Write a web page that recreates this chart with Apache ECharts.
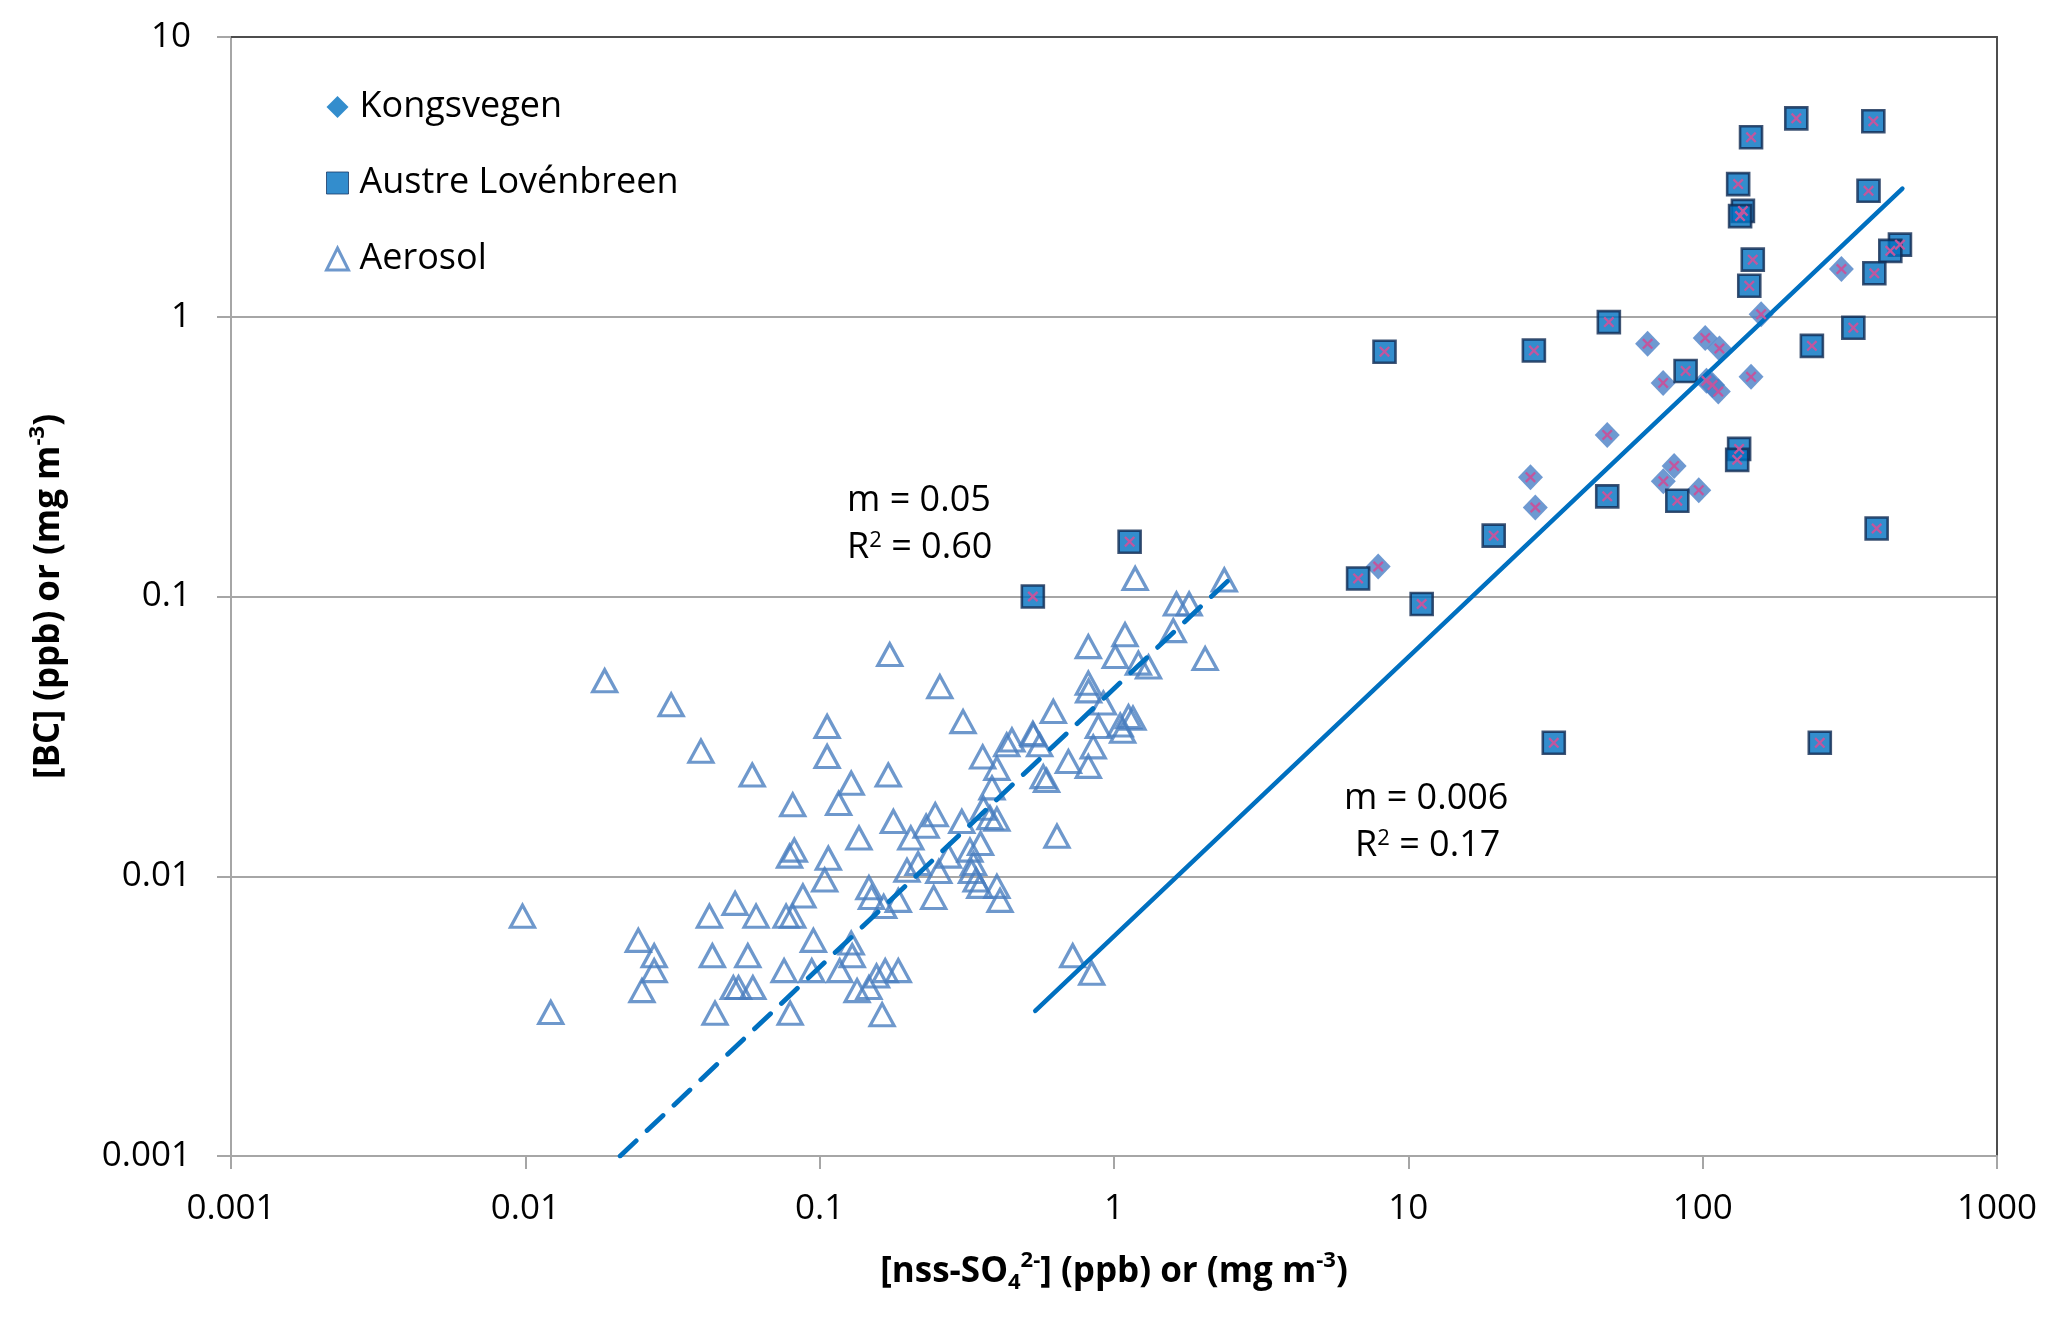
<!DOCTYPE html>
<html>
<head>
<meta charset="utf-8">
<script src="https://cdn.jsdelivr.net/npm/echarts@6/dist/echarts.min.js"></script>
<style>
html,body{margin:0;padding:0;background:#fff;}
#chart{width:2067px;height:1318px;}
</style>
</head>
<body>
<div id="chart"></div>
<script>
// ---- data ----
const xTickLabels = ['0.001','0.01','0.1','1','10','100','1000'];
const yTickLabels = ['0.001','0.01','0.1','1','10'];

const kongsvegen = [
  [7.9,0.128],[26,0.267],[27,0.208],[47.4,0.378],[65,0.80],[73.5,0.258],
  [73.4,0.58],[80,0.293],[97,0.24],[102,0.84],[103,0.59],[108,0.57],
  [113,0.54],[114,0.77],[146,0.61],[158,1.02],[296,1.48]
];

const austreLovenbreen = [
  [0.53,0.100],[1.13,0.157],[6.75,0.116],[8.3,0.75],[11.1,0.094],[19.5,0.165],
  [26.7,0.757],[31.2,0.030],[48,0.957],[47.4,0.228],[82,0.22],[87.5,0.64],
  [132,2.98],[137,2.39],[134,2.29],[146,4.38],[208,5.12],[380,5.0],
  [366,2.82],[148,1.6],[144,1.29],[468,1.81],[434,1.72],[383,1.43],
  [325,0.914],[235,0.787],[133,0.337],[131,0.308],[250,0.030],[390,0.175]
];

const aerosol = [
  [0.0186,0.050],[0.0313,0.041],[0.0395,0.028],[0.059,0.023],[0.106,0.0343],
  [0.106,0.0268],[0.128,0.0215],[0.173,0.062],[0.171,0.023],[0.256,0.0476],
  [0.307,0.0357],[0.358,0.0267],[0.432,0.0295],[0.45,0.0307],[0.40,0.0243],
  [0.532,0.032],[0.559,0.0295],[0.622,0.0388],[0.818,0.0662],[1.09,0.073],
  [1.01,0.061],[1.18,0.116],[2.37,0.1145],[1.63,0.094],[1.80,0.094],
  [1.59,0.0755],[2.04,0.060],[1.21,0.0578],[1.31,0.056],[0.818,0.049],
  [0.82,0.046],[0.92,0.0416],[1.12,0.0372],[1.05,0.0347],[1.07,0.033],
  [0.885,0.0343],[0.85,0.029],[0.818,0.0247],[0.70,0.0257],[0.575,0.0227],
  [0.59,0.022],[0.385,0.0207],[0.081,0.018],[0.116,0.0182],[0.136,0.0137],
  [0.082,0.0124],[0.079,0.0118],[0.107,0.0116],[0.104,0.0097],[0.147,0.0091],
  [0.15,0.0084],[0.00978,0.0072],[0.0242,0.0059],[0.0274,0.0052],[0.0274,0.0046],
  [0.0249,0.0039],[0.0122,0.00326],[0.0422,0.0072],[0.0516,0.0080],[0.0608,0.0072],
  [0.0769,0.0072],[0.081,0.0072],[0.0877,0.0085],[0.0432,0.0052],[0.057,0.0052],
  [0.0952,0.0059],[0.0757,0.0046],[0.094,0.0046],[0.117,0.0046],[0.128,0.00577],
  [0.129,0.0052],[0.147,0.0040],[0.134,0.0039],[0.0509,0.0040],[0.053,0.0040],
  [0.0593,0.0040],[0.0441,0.00324],[0.0794,0.00324],[0.156,0.0044],[0.178,0.0157],
  [0.247,0.0166],[0.230,0.0151],[0.204,0.0137],[0.304,0.0157],[0.379,0.0162],
  [0.36,0.0175],[0.40,0.016],[0.64,0.0139],[0.274,0.0118],[0.216,0.0111],
  [0.198,0.0105],[0.254,0.0104],[0.324,0.0124],[0.333,0.0111],[0.328,0.0104],
  [0.34,0.0097],[0.35,0.0092],[0.40,0.0092],[0.41,0.0082],[0.352,0.0131],
  [0.185,0.0082],[0.244,0.0084],[0.165,0.0078],[0.167,0.0046],[0.185,0.0046],
  [0.163,0.0032],[0.724,0.0052],[0.84,0.0045],[1.16,0.0367],[0.53,0.0324]
];

// trend line end points
const glacierFit = [[0.54,0.0033],[477,2.87]];
const aerosolFit = [[0.021,0.001],[2.53,0.118]];

const fitLabels = {
  aerosol: ['m = 0.05', 'R{sup|2} = 0.60'],
  glacier: ['m = 0.006', 'R{sup|2} = 0.17']
};

// ---- chart ----
const FONT = 'Open Sans';
const crossPath = 'path://M1.5,0 L5,3.5 L8.5,0 L10,1.5 L6.5,5 L10,8.5 L8.5,10 L5,6.5 L1.5,10 L0,8.5 L3.5,5 L0,1.5 Z';

function logLabel(labels, base) {
  return function (v) {
    const i = Math.round(Math.log10(v)) - base;
    return labels[i] !== undefined ? labels[i] : '';
  };
}

const chart = echarts.init(document.getElementById('chart'), null, {renderer: 'canvas'});

const gridColor = '#a6a6a6';
const supStyle = {fontSize: 22, fontFamily: FONT, fontWeight: 'bold', color: '#000', verticalAlign: 'top', lineHeight: 20};
const subStyle = {fontSize: 22, fontFamily: FONT, fontWeight: 'bold', color: '#000', verticalAlign: 'bottom', lineHeight: 20};
const annSup = {fontSize: 22, fontFamily: FONT, verticalAlign: 'top', lineHeight: 22, fill: '#000'};

const option = {
  backgroundColor: '#fff',
  animation: false,
  grid: {left: 231, right: 70, top: 37, bottom: 162, containLabel: false},
  legend: {
    orient: 'vertical', left: 320, top: 82,
    itemWidth: 22, itemHeight: 22, itemGap: 36,
    selectedMode: false,
    textStyle: {fontSize: 36, fontFamily: FONT, color: '#000', lineHeight: 40, padding: [0,0,0,6]},
    data: [
      {name: 'Kongsvegen', icon: 'diamond', itemStyle: {color: '#0070c0', borderWidth: 0}},
      {name: 'Austre Lovénbreen', icon: 'rect', itemStyle: {color: '#0070c0', borderColor: '#1a3a66', borderWidth: 1}},
      {name: 'Aerosol', icon: 'triangle', itemStyle: {color: 'rgba(0,0,0,0)', borderColor: '#4a7ebf', borderWidth: 3}}
    ]
  },
  xAxis: [{
    type: 'log', logBase: 10, min: 0.001, max: 1000, splitNumber: 6,
    axisLine: {show: true, lineStyle: {color: gridColor, width: 2}},
    axisTick: {show: true, length: 13, lineStyle: {color: gridColor, width: 2}},
    minorTick: {show: false},
    splitLine: {show: false},
    axisLabel: {fontSize: 35, fontFamily: FONT, color: '#000', margin: 36, formatter: logLabel(xTickLabels, -3)},
    name: '[nss-SO{sub|4}{sup|2-}] (ppb) or (mg m{sup|-3})',
    nameLocation: 'middle', nameGap: 94,
    nameTextStyle: {fontSize: 35, fontFamily: FONT, fontWeight: 'bold', color: '#000', lineHeight: 44,
      rich: {sup: supStyle, sub: subStyle}}
  }, {
    type: 'log', logBase: 10, min: 0.001, max: 1000, position: 'top',
    axisLine: {show: true, lineStyle: {color: '#4d4d4d', width: 2}},
    axisTick: {show: false}, axisLabel: {show: false}, splitLine: {show: false}
  }],
  yAxis: [{
    type: 'log', logBase: 10, min: 0.001, max: 10, splitNumber: 4,
    axisLine: {show: true, lineStyle: {color: gridColor, width: 2}},
    axisTick: {show: true, length: 14, lineStyle: {color: gridColor, width: 2}},
    minorTick: {show: false},
    splitLine: {show: true, showMaxLine: false, lineStyle: {color: gridColor, width: 2}},
    axisLabel: {fontSize: 35, fontFamily: FONT, color: '#000', margin: 40, formatter: logLabel(yTickLabels, -3)},
    name: '[BC] (ppb) or (mg m{sup|-3})',
    nameLocation: 'middle', nameGap: 160,
    nameTextStyle: {fontSize: 35, fontFamily: FONT, fontWeight: 'bold', color: '#000', lineHeight: 44,
      rich: {sup: supStyle}}
  }, {
    type: 'log', logBase: 10, min: 0.001, max: 10, position: 'right',
    axisLine: {show: true, lineStyle: {color: '#4d4d4d', width: 2}},
    axisTick: {show: false}, axisLabel: {show: false}, splitLine: {show: false}
  }],
  series: [
    {
      name: 'Aerosol', type: 'scatter', data: aerosol, z: 2,
      symbol: 'triangle', symbolSize: [24, 22],
      itemStyle: {color: 'rgba(0,0,0,0)', borderColor: '#4a7ebf', borderWidth: 3.2}
    },
    {
      name: 'Kongsvegen', type: 'scatter', data: kongsvegen, z: 3,
      symbol: 'diamond', symbolSize: [25, 26],
      itemStyle: {color: '#4a80c6'}
    },
    {
      name: 'Austre Lovénbreen', type: 'scatter', data: austreLovenbreen, z: 4,
      symbol: 'rect', symbolSize: [22, 22],
      itemStyle: {color: '#0070c0', borderColor: '#102a52', borderWidth: 2.6}
    },
    {
      name: 'glacier-x', type: 'scatter', data: kongsvegen.concat(austreLovenbreen), z: 8,
      symbol: crossPath, symbolSize: [11, 11],
      itemStyle: {color: '#c2569e', opacity: 1}, silent: true
    },
    {
      name: 'glacier-fit', type: 'line', data: glacierFit, z: 6,
      showSymbol: false, symbol: 'none',
      lineStyle: {color: '#0070c0', width: 4.5, cap: 'round'}
    },
    {
      name: 'aerosol-fit', type: 'line', data: aerosolFit, z: 6,
      showSymbol: false, symbol: 'none',
      lineStyle: {color: '#0070c0', width: 4.8, type: [22, 15], cap: 'round'}
    }
  ],
  graphic: [
    {type: 'text', left: 847, top: 483, silent: true,
      style: {text: fitLabels.aerosol[0], font: '36px "Open Sans"', fill: '#000'}},
    {type: 'text', left: 847, top: 530, silent: true,
      style: {text: fitLabels.aerosol[1], font: '36px "Open Sans"', fill: '#000', rich: {sup: annSup}}},
    {type: 'text', left: 1344, top: 781, silent: true,
      style: {text: fitLabels.glacier[0], font: '36px "Open Sans"', fill: '#000'}},
    {type: 'text', left: 1355, top: 828, silent: true,
      style: {text: fitLabels.glacier[1], font: '36px "Open Sans"', fill: '#000', rich: {sup: annSup}}}
  ]
};
chart.setOption(option);
</script>
</body>
</html>
